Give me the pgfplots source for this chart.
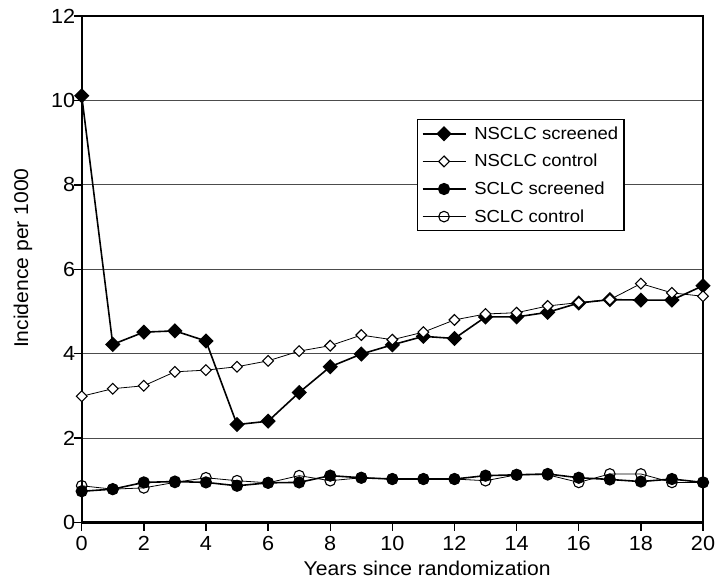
\documentclass[border=0pt]{standalone}
\usepackage{fontspec}
\setmainfont{Liberation Sans}[FakeStretch=1.06]
\usepackage{pgfplots}
\pgfplotsset{compat=1.18}

\pgfplotstableread{
yr  nscr  nctl  sscr  sctl
0   10.11 2.99  0.74  0.87
1   4.22  3.17  0.79  0.79
2   4.51  3.24  0.95  0.82
3   4.54  3.57  0.97  0.95
4   4.30  3.61  0.95  1.06
5   2.32  3.69  0.87  0.99
6   2.40  3.83  0.94  0.94
7   3.08  4.06  0.95  1.11
8   3.69  4.19  1.11  0.99
9   3.99  4.44  1.06  1.06
10  4.21  4.33  1.03  1.03
11  4.41  4.51  1.03  1.03
12  4.36  4.80  1.03  1.03
13  4.87  4.94  1.11  0.99
14  4.87  4.97  1.13  1.13
15  4.98  5.13  1.15  1.13
16  5.20  5.21  1.06  0.95
17  5.28  5.28  1.02  1.15
18  5.27  5.66  0.97  1.15
19  5.27  5.44  1.03  0.95
20  5.61  5.36  0.95  0.95
}\inc

\begin{document}
\begin{tikzpicture}
\path[use as bounding box] (0,0) rectangle (721bp,582bp);
\begin{axis}[
    at={(81.7bp,59.5bp)}, anchor=south west,
    scale only axis,
    width=621.3bp, height=506.5bp,
    xmin=0, xmax=20, ymin=0, ymax=12,
    xtick={0,2,...,20}, ytick={0,2,...,12},
    tick align=outside, tick pos=left,
    major tick length=8bp,
    every tick/.style={black, line width=1.4bp},
    axis line style={black, line width=2bp},
    ymajorgrids,
    grid style={gray!60!black, line width=1bp},
    /pgf/number format/assume math mode=true,
    tick label style={font=\fontsize{20.5}{23}\selectfont},
    xticklabel style={yshift=-2.5bp},
    yticklabel style={xshift=5bp},
    label style={font=\fontsize{20}{23}\selectfont},
    xlabel={Years since randomization},
    ylabel={Incidence per 1000},
    xlabel style={at={(axis description cs:0.556,-0.1037)}, anchor=base},
    ylabel style={at={(axis description cs:-0.0945,0.522)}, anchor=center},
    legend style={at={(rel axis cs:0.5397,0.7966)}, anchor=north west,
        draw=black, line width=1.4bp, font=\fontsize{17.5}{19}\selectfont,
        inner xsep=4bp, inner ysep=5bp, row sep=9.5bp, column sep=6bp,
        cells={anchor=west}},
    legend image code/.code={\draw[mark repeat=2, mark phase=2, #1]
        plot coordinates {(0bp,0bp) (21.5bp,0bp) (43bp,0bp)};},
    legend cell align=left,
]
\addplot[black, line width=1.6bp, mark=square*, mark size=4.6bp,
    mark options={rotate=45, solid, fill=black}] table[x=yr, y=nscr] {\inc};
\addlegendentry{NSCLC screened}
\addplot[black, line width=0.8bp, mark=square*, mark size=3.8bp,
    mark options={rotate=45, fill=white, line width=1.1bp}] table[x=yr, y=nctl] {\inc};
\addlegendentry{NSCLC control}
\addplot[black, line width=1.6bp, mark=*, mark size=5.3bp,
    mark options={fill=black}] table[x=yr, y=sscr] {\inc};
\addlegendentry{SCLC screened}
\addplot[black, line width=0.8bp, mark=o, mark size=5.3bp,
    mark options={fill=white, line width=1.1bp}] table[x=yr, y=sctl] {\inc};
\addlegendentry{SCLC control}
\draw[black, line width=2bp] (rel axis cs:0,1) -- (rel axis cs:1,1) -- (rel axis cs:1,0);
\end{axis}
\end{tikzpicture}
\end{document}
